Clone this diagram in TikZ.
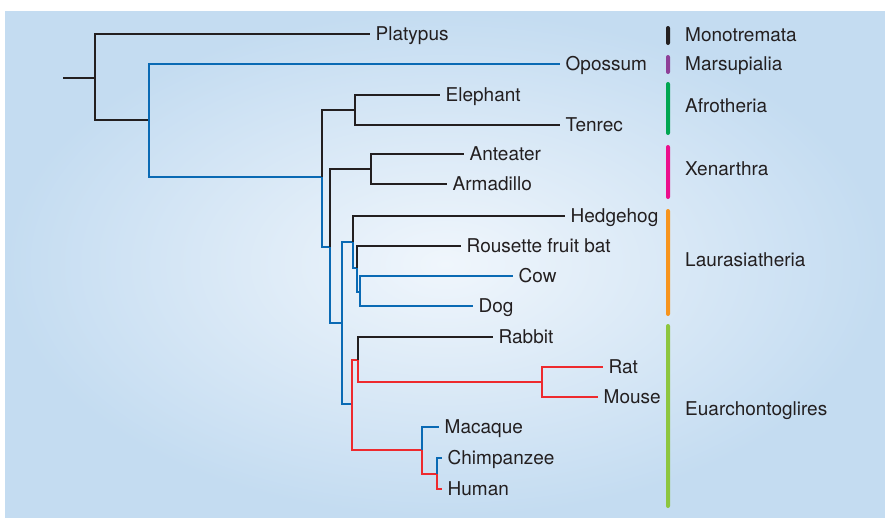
\documentclass[tikz,border=0pt]{standalone}
\usepackage{fontspec}
\setmainfont{TeX Gyre Heros}
\usepackage{xcolor}
\definecolor{ink}      {HTML}{231F20}
\definecolor{treeBlue} {HTML}{0A6AB4}
\definecolor{treeRed}  {HTML}{EE2A2E}
\definecolor{bgIn}     {HTML}{F0F6FC}
\definecolor{bgOut}    {HTML}{C4DCF1}
\definecolor{cMono}    {HTML}{231F20}
\definecolor{cMars}    {HTML}{8E3F97}
\definecolor{cAfro}    {HTML}{00A651}
\definecolor{cXen}     {HTML}{EC0F8C}
\definecolor{cLaur}    {HTML}{F7941D}
\definecolor{cEuar}    {HTML}{8DC63F}
\tikzset{
    taxon/.style={anchor=west, inner xsep=5.5pt, inner ysep=0pt,
                  text height=13.6pt, text depth=0pt,
                  font=\fontsize{19}{21}\selectfont, text=ink},
    clade/.style={taxon, inner xsep=0pt},
    cbar/.style={rectangle, rounded corners=2pt, minimum width=4pt,
                 inner sep=0pt},
    br/.style={-, line width=2.8pt, ink},
    bbr/.style={br, treeBlue},
    rbr/.style={br, treeRed},
}

\begin{document}
\begin{tikzpicture}[x=1pt, y=-1pt]
    \useasboundingbox (0,0) rectangle (885,517);
    \shade[inner color=bgIn, outer color=bgOut] (5,11) rectangle (885,517);

    \node[taxon] (plat) at (370,34) {Platypus};
    \node[taxon] (opos) at (560,64) {Opossum};
    \node[taxon] (elep) at (440,95) {Elephant};
    \node[taxon] (tenr) at (560,125) {Tenrec};
    \node[taxon] (ante) at (464,154) {Anteater};
    \node[taxon] (arma) at (447,184) {Armadillo};
    \node[taxon] (hedg) at (565,216) {Hedgehog};
    \node[taxon] (bat)  at (461,246) {Rousette fruit bat};
    \node[taxon] (cow)  at (513,276) {Cow};
    \node[taxon] (dog)  at (473,306) {Dog};
    \node[taxon] (rabb) at (493,337) {Rabbit};
    \node[taxon] (rat)  at (603,367) {Rat};
    \node[taxon] (mous) at (598,397) {Mouse};
    \node[taxon] (maca) at (439,427) {Macaque};
    \node[taxon] (chim) at (442,458) {Chimpanzee};
    \node[taxon] (huma) at (442,489) {Human};

    \coordinate (stub) at (63,78);
    \coordinate (root) at (95,78);
    \coordinate (ther) at (149,120);
    \coordinate (euth) at (322,177);
    \coordinate (afro) at (355,110);
    \coordinate (bor)  at (330,247);
    \coordinate (xena) at (371,169);
    \coordinate (bor2) at (342,323);
    \coordinate (laur) at (353,242);
    \coordinate (scro) at (357,268);
    \coordinate (fere) at (360,292);
    \coordinate (euar) at (352,404);
    \coordinate (glir) at (358,360);
    \coordinate (muri) at (542,382);
    \coordinate (prim) at (422,450);
    \coordinate (homi) at (437,474);

    \draw[br] (stub) -- (root);
    \draw[br] (root) |- (plat.west);
    \draw[br] (root) |- (ther);
    \draw[bbr] (ther) |- (opos.west);
    \draw[bbr] (ther) |- (euth);
    \draw[br] (euth) |- (afro);
    \draw[br] (afro) |- (elep.west);
    \draw[br] (afro) |- (tenr.west);
    \draw[bbr] (euth) |- (bor);
    \draw[br] (bor) |- (xena);
    \draw[br] (xena) |- (ante.west);
    \draw[br] (xena) |- (arma.west);
    \draw[bbr] (bor) |- (bor2);
    \draw[bbr] (bor2) |- (laur);
    \draw[br] (laur) |- (hedg.west);
    \draw[bbr] (laur) |- (scro);
    \draw[br] (scro) |- (bat.west);
    \draw[bbr] (scro) |- (fere);
    \draw[bbr] (fere) |- (cow.west);
    \draw[bbr] (fere) |- (dog.west);
    \draw[bbr] (bor2) |- (euar);
    \draw[rbr] (euar) |- (glir);
    \draw[br] (glir) |- (rabb.west);
    \draw[rbr] (glir) |- (muri);
    \draw[rbr] (muri) |- (rat.west);
    \draw[rbr] (muri) |- (mous.west);
    \draw[rbr] (euar) |- (prim);
    \draw[bbr] (prim) |- (maca.west);
    \draw[rbr] (prim) |- (homi);
    \draw[bbr] (homi) |- (chim.west);
    \draw[rbr] (homi) |- (huma.west);

    \node[cbar, fill=cMono, minimum height=19pt]  (bmon) at (668,35.5) {};
    \node[cbar, fill=cMars, minimum height=19pt]  (bmar) at (668,64.5) {};
    \node[cbar, fill=cAfro, minimum height=53pt]  (bafr) at (668,108.5) {};
    \node[cbar, fill=cXen,  minimum height=54pt]  (bxen) at (668,172) {};
    \node[cbar, fill=cLaur, minimum height=107pt] (blau) at (668,262.5) {};
    \node[cbar, fill=cEuar, minimum height=184pt] (beua) at (668,416) {};

    \node[clade] (lmon) at (685,35)  {Monotremata};
    \node[clade] (lmar) at (685,63.5) {Marsupialia};
    \node[clade] (lafr) at (685,106) {Afrotheria};
    \node[clade] (lxen) at (685,169) {Xenarthra};
    \node[clade] (llau) at (685,260) {Laurasiatheria};
    \node[clade] (leua) at (685,409) {Euarchontoglires};
\end{tikzpicture}
\end{document}
